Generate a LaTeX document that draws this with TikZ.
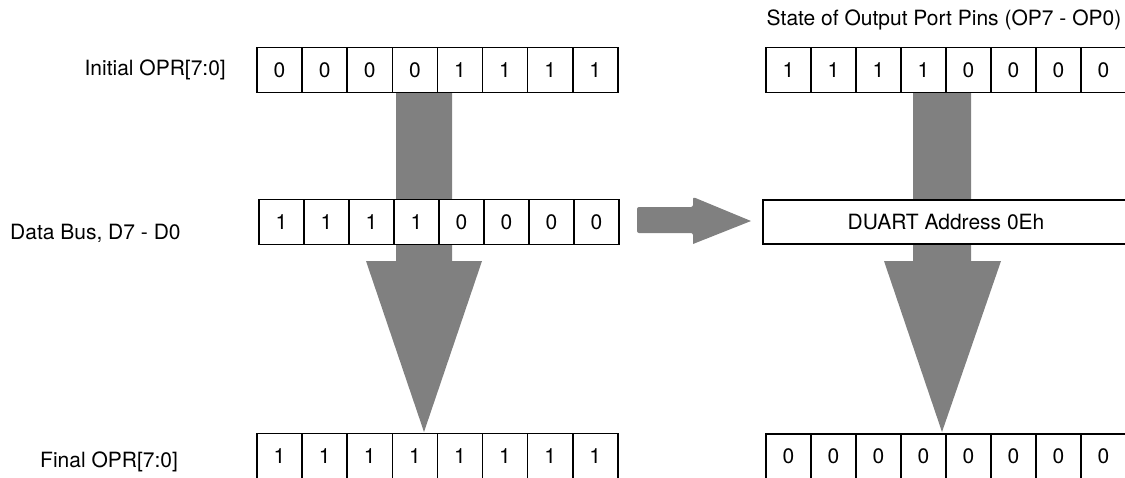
\documentclass[tikz,border=0pt]{standalone}
\usepackage{fontspec}
\setmainfont{TeX Gyre Heros}
\begin{document}
\begin{tikzpicture}[x=1pt,y=-1pt,
  cell/.style={draw=black,line width=1.6pt,fill=white,minimum width=45.1pt,minimum height=45pt,inner sep=0pt,outer sep=0pt,font=\fontsize{21}{25}\selectfont},
  lbl/.style={inner sep=0pt,font=\fontsize{21}{25}\selectfont},
  blockarrow/.style={fill=black!50,draw=none}]
\useasboundingbox (0,0) rectangle (1125,477);
\clip (0,0) rectangle (1125,477);

% block arrows (behind the boxes)
\coordinate (aL) at (424,93);
\coordinate (aR) at (942,93);
\fill[blockarrow] ([xshift=-28pt]aL) -- ([xshift=28pt]aL) -- (452,261) -- (482,261) -- (424,432) -- (366,261) -- (396,261) -- cycle;
\fill[blockarrow] ([xshift=-29pt]aR) -- ([xshift=29pt]aR) -- (971,261) -- (1001,261) -- (942,432) -- (884,261) -- (913,261) -- cycle;
\fill[blockarrow,rounded corners=2pt] (637,207) -- (693,207) -- (693,197) [sharp corners]-- (751,221) -- (693,244) [rounded corners=2pt]-- (693,233) -- (637,233) -- cycle;

% rows
\foreach \v [count=\i] in {0,0,0,0,1,1,1,1}
  \node[cell] (i\i) at ({257+45.1*(\i-0.5)},70) {\v};
\foreach \v [count=\i] in {1,1,1,1,0,0,0,0}
  \node[cell] (d\i) at ({259+45*(\i-0.5)},222) {\v};
\foreach \v [count=\i] in {1,1,1,1,1,1,1,1}
  \node[cell] (f\i) at ({257+45.1*(\i-0.5)},456) {\v};
\foreach \v [count=\i] in {1,1,1,1,0,0,0,0}
  \node[cell] (o\i) at ({766+45*(\i-0.5)},70) {\v};
\foreach \v [count=\i] in {0,0,0,0,0,0,0,0}
  \node[cell] (p\i) at ({766+45*(\i-0.5)},456.5) {\v};
\node[cell,minimum width=366pt,minimum height=44pt] (duart) at (946,222) {DUART Address 0Eh};

% labels
\node[lbl,anchor=east] (lInit) at (226,70) {Initial OPR[7:0]};
\node[lbl,anchor=west] (lData) at (10,233) {Data Bus, D7 - D0};
\node[lbl,anchor=west] (lFinal) at (40,462) {Final OPR[7:0]};
\node[lbl] (lState) at (944,20) {State of Output Port Pins (OP7 - OP0)};
\end{tikzpicture}
\end{document}
